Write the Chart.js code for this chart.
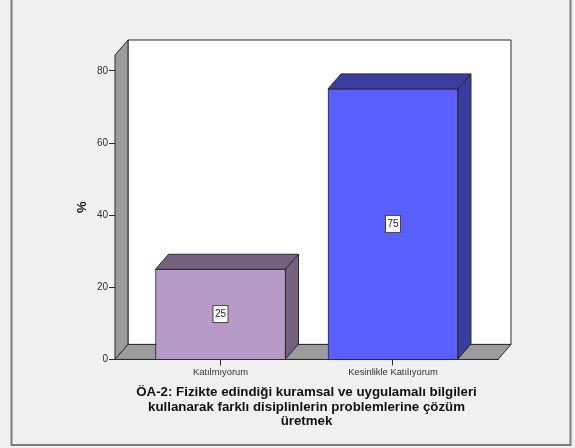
<!DOCTYPE html>
<html>
<head>
<meta charset="utf-8">
<style>
  html, body { margin: 0; padding: 0; background: #f0f0f0; }
  #wrap { position: relative; width: 575px; height: 448px; }
</style>
<script src="https://cdn.jsdelivr.net/npm/chart.js@4"></script>
</head>
<body>
<div id="wrap"><canvas id="chart" width="575" height="448"></canvas></div>
<script>
const categories = ['Katılmıyorum', 'Kesinlikle Katılıyorum'];
const percentages = [25, 75];
const frontColors = ['#b89ac8', '#5a60ff'];
const sideColors = ['#74607f', '#383d9f'];
const yTicks = [0, 20, 40, 60, 80];
const xTitleLines = [
    'ÖA-2: Fizikte edindiği kuramsal ve uygulamalı bilgileri',
    'kullanarak farklı disiplinlerin problemlerine çözüm',
    'üretmek'
];

const depthX = 13;
const depthY = 15;
const lineColor = '#2b2b2b';

function poly(ctx, pts, fill) {
    ctx.beginPath();
    pts.forEach((p, i) => i ? ctx.lineTo(p[0], p[1]) : ctx.moveTo(p[0], p[1]));
    ctx.closePath();
    ctx.fillStyle = fill;
    ctx.fill();
    ctx.strokeStyle = lineColor;
    ctx.lineWidth = 1;
    ctx.stroke();
}

// grey frame round the chart, its top edge is cut off in the picture
const framePlugin = {
    id: 'frame',
    beforeDraw(chart) {
        const { ctx } = chart;
        ctx.save();
        ctx.strokeStyle = '#7c7c7c';
        ctx.lineWidth = 2;
        ctx.beginPath();
        ctx.moveTo(11.5, 0);
        ctx.lineTo(11.5, 445);
        ctx.lineTo(570.5, 445);
        ctx.lineTo(570.5, 0);
        ctx.stroke();
        ctx.restore();
    }
};

// 3D walls and floor behind the bars
const wallsPlugin = {
    id: 'walls',
    beforeDatasetsDraw(chart) {
        const { ctx, chartArea: a } = chart;
        ctx.save();
        poly(ctx, [[a.left + depthX, a.top - depthY], [a.right + depthX, a.top - depthY], [a.right + depthX, a.bottom - depthY], [a.left + depthX, a.bottom - depthY]], '#ffffff');
        poly(ctx, [[a.left, a.top], [a.left + depthX, a.top - depthY], [a.left + depthX, a.bottom - depthY], [a.left, a.bottom]], '#9c9c9c');
        poly(ctx, [[a.left, a.bottom], [a.left + depthX, a.bottom - depthY], [a.right + depthX, a.bottom - depthY], [a.right, a.bottom]], '#9c9c9c');
        ctx.restore();
    }
};

// top and side faces of each bar, then the value boxes
const barFacesPlugin = {
    id: 'barFaces',
    afterDatasetsDraw(chart) {
        const { ctx } = chart;
        const bars = chart.getDatasetMeta(0).data;
        ctx.save();
        bars.forEach((bar, i) => {
            const l = bar.x - bar.width / 2;
            const r = bar.x + bar.width / 2;
            poly(ctx, [[l, bar.y], [l + depthX, bar.y - depthY], [r + depthX, bar.y - depthY], [r, bar.y]], sideColors[i]);
            poly(ctx, [[r, bar.y], [r + depthX, bar.y - depthY], [r + depthX, bar.base - depthY], [r, bar.base]], sideColors[i]);

            const cy = (bar.y + bar.base) / 2;
            ctx.fillStyle = '#ffffff';
            ctx.fillRect(bar.x - 7.5, cy - 8.5, 15, 17);
            ctx.strokeStyle = '#444444';
            ctx.strokeRect(bar.x - 7.5, cy - 8.5, 15, 17);
            ctx.fillStyle = '#222222';
            ctx.font = '10px "Liberation Sans"';
            ctx.textAlign = 'center';
            ctx.textBaseline = 'middle';
            ctx.fillText(String(percentages[i]), bar.x, cy);
        });
        ctx.restore();
    }
};

new Chart(document.getElementById('chart'), {
    type: 'bar',
    data: {
        datasets: [{
            data: categories.map((c, i) => ({ x: i, y: percentages[i] })),
            backgroundColor: frontColors,
            borderColor: lineColor,
            borderWidth: 1,
            barThickness: 130
        }]
    },
    options: {
        responsive: false,
        animation: false,
        layout: { padding: { left: 0, right: 77, top: 55, bottom: 20 } },
        plugins: { legend: { display: false }, tooltip: { enabled: false } },
        scales: {
            x: {
                type: 'linear',
                offset: false,
                min: -0.6116,
                max: 1.6087,
                afterBuildTicks(axis) { axis.ticks = categories.map((c, i) => ({ value: i })); },
                grid: { offset: false, drawOnChartArea: false, tickLength: 6, color: lineColor },
                border: { color: lineColor },
                ticks: {
                    autoSkip: false,
                    maxRotation: 0,
                    padding: 1,
                    color: '#333333',
                    font: { family: '"Liberation Sans"', size: 9.4 },
                    callback: value => categories[value]
                },
                title: {
                    display: true,
                    text: xTitleLines,
                    color: '#111111',
                    padding: { top: 7, bottom: 0 },
                    font: { family: '"Liberation Sans"', size: 13.3, weight: 'bold', lineHeight: 1.06 }
                }
            },
            y: {
                min: 0,
                max: 84.4,
                afterBuildTicks(axis) { axis.ticks = yTicks.map(v => ({ value: v })); },
                afterFit(axis) { axis.width = 115; },
                grid: { drawOnChartArea: false, tickLength: 6, color: lineColor },
                border: { color: lineColor },
                ticks: {
                    padding: 1,
                    color: '#333333',
                    font: { family: '"Liberation Sans"', size: 10 }
                },
                title: {
                    display: true,
                    text: '%',
                    color: '#111111',
                    padding: { top: 75, bottom: 0 },
                    font: { family: '"Liberation Sans"', size: 13, weight: 'bold' }
                }
            }
        }
    },
    plugins: [framePlugin, wallsPlugin, barFacesPlugin]
});
</script>
</body>
</html>
